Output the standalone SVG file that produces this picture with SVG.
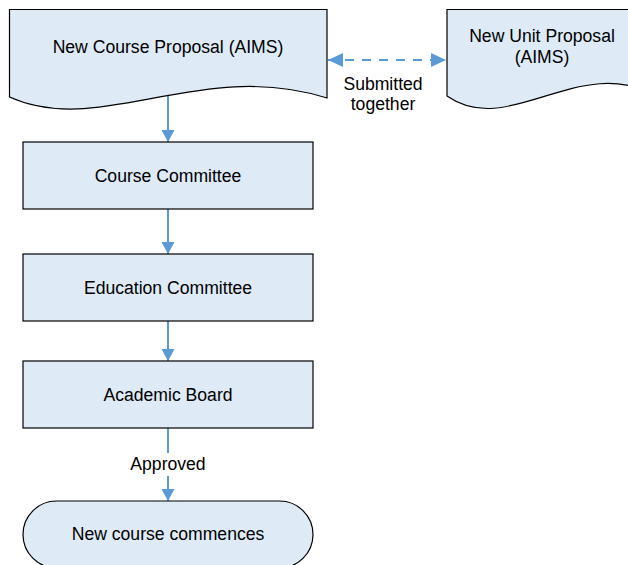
<svg xmlns="http://www.w3.org/2000/svg" width="628" height="565" viewBox="0 0 628 565">
<style>
.node{fill:#DEEAF6;stroke:#000;stroke-width:1.2}
.t{font-family:"Liberation Sans",Arial,sans-serif;font-size:17.6px;fill:#000;text-anchor:middle}
.c{fill:none;stroke:#5B9BD5;stroke-width:2}
.d{stroke-dasharray:9 8}
</style>
<defs>
<marker id="ah" viewBox="0 0 12 12" refX="12" refY="6" markerWidth="12" markerHeight="13" markerUnits="userSpaceOnUse" orient="auto-start-reverse" preserveAspectRatio="none">
<path d="M0,0 L12,6 L0,12 Z" fill="#5B9BD5"/>
</marker>
<marker id="ahl" viewBox="0 0 12 12" refX="12" refY="6" markerWidth="15" markerHeight="14" markerUnits="userSpaceOnUse" orient="auto-start-reverse" preserveAspectRatio="none">
<path d="M0,0 L12,6 L0,12 Z" fill="#5B9BD5"/>
</marker>
</defs>
<rect width="628" height="565" fill="#fff"/>
<g id="connectors">
<path class="c" d="M168,96 V142" marker-end="url(#ah)"/>
<path class="c" d="M168,209 V254" marker-end="url(#ah)"/>
<path class="c" d="M168,321 V361" marker-end="url(#ah)"/>
<path class="c" d="M168,428 V453"/>
<path class="c" d="M168,476 V501" marker-end="url(#ah)"/>
<path class="c d" d="M328,60 H446" marker-start="url(#ahl)" marker-end="url(#ahl)"/>
<text class="t" x="168" y="470">Approved</text>
<text class="t" x="383" y="90">Submitted</text>
<text class="t" x="383" y="110">together</text>
</g>
<g id="new-course-proposal">
<path class="node" d="M9.5,9.5 H327 V98 C200,58 100,138 9.5,97 Z"/>
<text class="t" x="168" y="53">New Course Proposal (AIMS)</text>
</g>
<g id="new-unit-proposal">
<path class="node" d="M447,9.5 H660 V98 C580,50 510,140 447,96 Z"/>
<text class="t" x="542" y="42">New Unit Proposal</text>
<text class="t" x="542" y="63">(AIMS)</text>
</g>
<g id="course-committee">
<rect class="node" x="23" y="142" width="290" height="67"/>
<text class="t" x="168" y="182">Course Committee</text>
</g>
<g id="education-committee">
<rect class="node" x="23" y="254" width="290" height="67"/>
<text class="t" x="168" y="294">Education Committee</text>
</g>
<g id="academic-board">
<rect class="node" x="23" y="361" width="290" height="67"/>
<text class="t" x="168" y="401">Academic Board</text>
</g>
<g id="new-course-commences">
<rect class="node" x="23" y="501" width="290" height="67" rx="33.5" ry="33.5"/>
<text class="t" x="168" y="540">New course commences</text>
</g>
</svg>
